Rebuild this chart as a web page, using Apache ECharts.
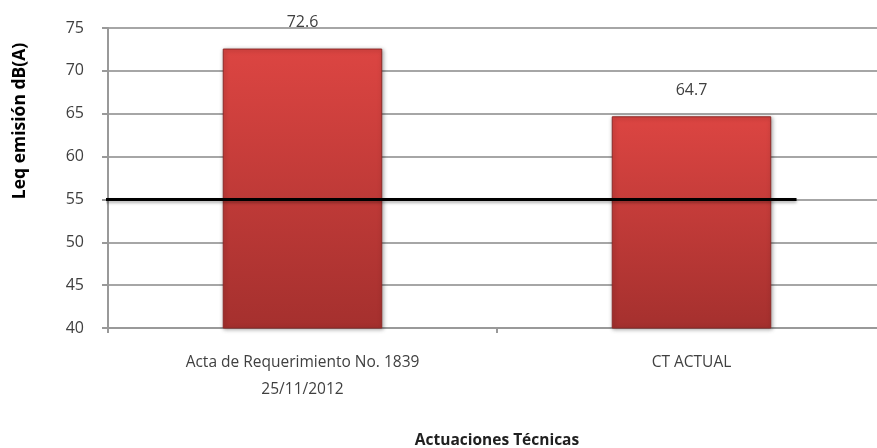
<!DOCTYPE html>
<head>
    <meta charset="utf-8">
    <title>ECharts</title>
    <script type="text/javascript" src="https://cdn.jsdelivr.net/npm/echarts@6/dist/echarts.min.js"></script>
</head>

<body style="margin:0">
<div id="main" style="width:877px;height:448px"></div>

<script type="text/javascript">
    // datos
    var categorias = ['Acta de Requerimiento No. 1839\n25/11/2012', 'CT ACTUAL'];
    var valores = [72.6, 64.7];
    var limite = 55;              // línea de referencia
    var limiteTramo = [-0.52, 1.27]; // extensión de la línea en unidades de categoría
    var ticksY = [40, 75, 5];     // min, max, intervalo

    var fuente = "'Open Sans', sans-serif";

    var myChart = echarts.init(document.getElementById('main'));
    var option = {
        animation: false,
        backgroundColor: '#fff',
        grid: { left: 108, right: -9, top: 28, bottom: 120, outerBoundsMode: 'none' },
        xAxis: [
            {
                type: 'category',
                data: categorias,
                axisLine: { lineStyle: { color: '#999', width: 2 } },
                axisTick: { show: true, length: 5, lineStyle: { color: '#999', width: 2 } },
                axisLabel: {
                    color: '#404040', fontSize: 15.5, fontFamily: fuente,
                    margin: 21, lineHeight: 27
                },
                name: 'Actuaciones Técnicas',
                nameLocation: 'middle',
                nameGap: 105,
                nameTextStyle: { color: '#202020', fontSize: 15.5, fontWeight: 'bold', fontFamily: fuente }
            },
            {
                type: 'value', min: -0.5, max: 1.5, show: false
            }
        ],
        yAxis: {
            type: 'value',
            min: ticksY[0], max: ticksY[1], interval: ticksY[2],
            axisLine: { show: true, onZero: false, lineStyle: { color: '#999', width: 2 } },
            axisTick: { show: true, length: 6, lineStyle: { color: '#999', width: 2 } },
            axisLabel: { color: '#404040', fontSize: 16, fontFamily: fuente, margin: 24 },
            splitLine: { lineStyle: { color: '#a6a6a6', width: 2 } }
        },
        graphic: [{
            type: 'text',
            x: 20, y: 121,
            rotation: Math.PI / 2,
            style: {
                text: 'Leq emisión dB(A)',
                fontSize: 17.5, fontWeight: 'bold', fontFamily: fuente,
                fill: '#000', align: 'center', verticalAlign: 'middle'
            }
        }],
        series: [
            {
                type: 'bar',
                data: valores,
                barWidth: '41%',
                itemStyle: {
                    color: new echarts.graphic.LinearGradient(0, 0, 0, 1, [
                        { offset: 0, color: '#dc4542' },
                        { offset: 1, color: '#a5302e' }
                    ]),
                    borderColor: '#8f2a28',
                    borderWidth: 1,
                    shadowColor: 'rgba(0,0,0,0.35)',
                    shadowBlur: 4,
                    shadowOffsetX: 1,
                    shadowOffsetY: 1
                },
                label: {
                    show: true, position: 'top', distance: 18,
                    color: '#404040', fontSize: 16, fontFamily: fuente
                }
            },
            {
                type: 'line',
                xAxisIndex: 1,
                data: [[limiteTramo[0], limite], [limiteTramo[1], limite]],
                symbol: 'none',
                clip: false,
                z: 5,
                lineStyle: {
                    color: '#000', width: 3,
                    shadowColor: 'rgba(0,0,0,0.3)', shadowBlur: 3, shadowOffsetY: 2
                }
            }
        ]
    };
    myChart.setOption(option);
</script>
</body>
